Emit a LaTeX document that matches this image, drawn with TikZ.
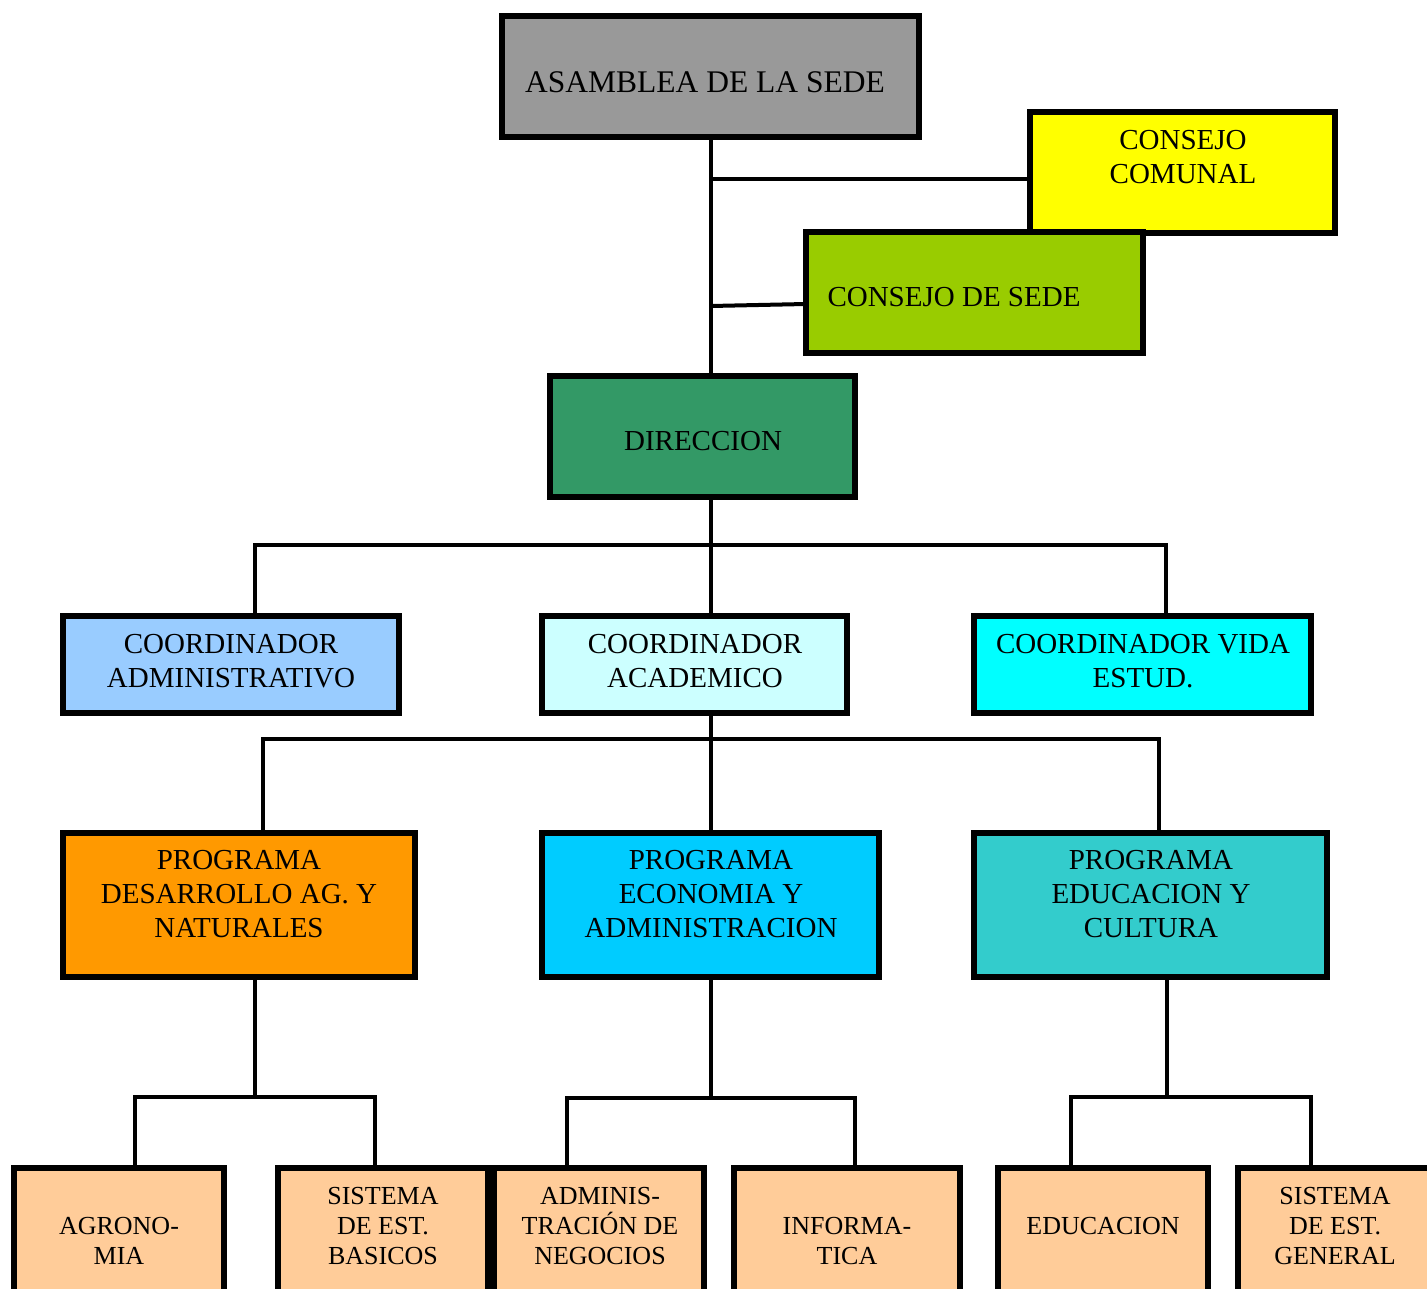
\documentclass[tikz,border=0pt]{standalone}
\usepackage{fontspec}
\setmainfont{Liberation Serif}
\definecolor{cgray}{HTML}{999999}
\definecolor{cyel}{HTML}{FFFF00}
\definecolor{cgreen}{HTML}{99CC00}
\definecolor{cdir}{HTML}{339966}
\definecolor{cadmc}{HTML}{99CCFF}
\definecolor{cacadc}{HTML}{CCFFFF}
\definecolor{cvidac}{HTML}{00FFFF}
\definecolor{cpdes}{HTML}{FF9900}
\definecolor{cpeco}{HTML}{00CCFF}
\definecolor{cpedu}{HTML}{33CCCC}
\definecolor{cbot}{HTML}{FFCC99}
\newcommand{\orgbox}[6]{\node[orgnode, fill=#6, minimum width={#4-#2-6}, minimum height={#5-#3-6}] (#1) at ({(#2+#4)/2},{(#3+#5)/2}) {};}
\begin{document}
\begin{tikzpicture}[x=1pt,y=-1pt,
  orgnode/.style={draw=black, line width=6pt, inner sep=0pt, outer sep=0pt},
  conn/.style={draw=black, line width=4pt},
  bigtxt/.style={font=\fontsize{29}{34}\selectfont, align=center, inner sep=0pt},
  asamtxt/.style={font=\fontsize{31.5}{36}\selectfont, align=center, inner sep=0pt},
  smalltxt/.style={font=\fontsize{26}{30}\selectfont, align=center, inner sep=0pt}]
\useasboundingbox (0,0) rectangle (1427,1289);
\clip (0,0) rectangle (1427,1289);
% boxes
\orgbox{asam}{499}{13}{922}{140}{cgray}
\orgbox{comunal}{1027}{109}{1338}{236}{cyel}
\orgbox{csede}{803}{229}{1146}{356}{cgreen}
\orgbox{dir}{547}{373}{858}{500}{cdir}
\orgbox{cadm}{60}{613}{402}{716}{cadmc}
\orgbox{cacad}{539}{613}{850}{716}{cacadc}
\orgbox{cvida}{971}{613}{1314}{716}{cvidac}
\orgbox{pdes}{60}{830}{418}{980}{cpdes}
\orgbox{peco}{539}{830}{882}{980}{cpeco}
\orgbox{pedu}{971}{830}{1330}{980}{cpedu}
\orgbox{agro}{11}{1165}{227}{1320}{cbot}
\orgbox{sbas}{275}{1165}{491}{1320}{cbot}
\orgbox{admn}{491}{1165}{707}{1320}{cbot}
\orgbox{info}{731}{1165}{963}{1320}{cbot}
\orgbox{educ}{995}{1165}{1211}{1320}{cbot}
\orgbox{sgen}{1235}{1165}{1440}{1320}{cbot}
% junction coordinates
\coordinate (j1) at (711,179);
\coordinate (j2) at (711,306);
\coordinate (bA) at (711,545);
\coordinate (bAl) at (255,545);
\coordinate (bAr) at (1166,545);
\coordinate (bB) at (711,739);
\coordinate (bBl) at (263,739);
\coordinate (bBr) at (1159,739);
\coordinate (cL) at (255,1097);
\coordinate (cLl) at (135,1097);
\coordinate (cLr) at (375,1097);
\coordinate (cM) at (711,1098);
\coordinate (cMl) at (567,1098);
\coordinate (cMr) at (855,1098);
\coordinate (cR) at (1167,1097);
\coordinate (cRl) at (1071,1097);
\coordinate (cRr) at (1311,1097);
% connectors
\draw[conn] (j1 |- asam.south) -- (j1 |- dir.north);
\draw[conn] (j1) -- (j1 -| comunal.west);
\draw[conn] (j2) -- ([yshift=2pt]j2 -| csede.west);
\draw[conn] (bA |- dir.south) -- (bA |- cacad.north);
\draw[conn] (bAl |- cadm.north) -- (bAl) -- (bAr) -- (bAr |- cvida.north);
\draw[conn] (bB |- cacad.south) -- (bB |- peco.north);
\draw[conn] (bBl |- pdes.north) -- (bBl) -- (bBr) -- (bBr |- pedu.north);
\draw[conn] (cL |- pdes.south) -- (cL);
\draw[conn] (cLl |- agro.north) -- (cLl) -- (cLr) -- (cLr |- sbas.north);
\draw[conn] (cM |- peco.south) -- (cM);
\draw[conn] (cMl |- admn.north) -- (cMl) -- (cMr) -- (cMr |- info.north);
\draw[conn] (cR |- pedu.south) -- (cR);
\draw[conn] (cRl |- educ.north) -- (cRl) -- (cRr) -- (cRr |- sgen.north);
% texts
\node[asamtxt] (tasam) at (705,82) {ASAMBLEA DE LA SEDE};
\node[bigtxt] (tcomunal) at (1183,157) {CONSEJO\\COMUNAL};
\node[bigtxt] (tcsede) at (954,297) {CONSEJO DE SEDE};
\node[bigtxt] (tdir) at (703,441) {DIRECCION};
\node[bigtxt] (tcadm) at (231,661) {COORDINADOR\\ADMINISTRATIVO};
\node[bigtxt] (tcacad) at (695,661) {COORDINADOR\\ACADEMICO};
\node[bigtxt] (tcvida) at (1143,661) {COORDINADOR VIDA\\ESTUD.};
\node[bigtxt] (tpdes) at (239,894) {PROGRAMA\\DESARROLLO AG. Y\\NATURALES};
\node[bigtxt] (tpeco) at (711,894) {PROGRAMA\\ECONOMIA Y\\ADMINISTRACION};
\node[bigtxt] (tpedu) at (1151,894) {PROGRAMA\\EDUCACION Y\\CULTURA};
\node[smalltxt] (tagro) at (119,1241) {AGRONO-\\MIA};
\node[smalltxt] (tsbas) at (383,1226) {SISTEMA\\DE EST.\\BASICOS};
\node[smalltxt] (tadmn) at (600,1226) {ADMINIS-\\TRACIÓN DE\\NEGOCIOS};
\node[smalltxt] (tinfo) at (847,1241) {INFORMA-\\TICA};
\node[smalltxt] (teduc) at (1103,1226) {EDUCACION};
\node[smalltxt] (tsgen) at (1335,1226) {SISTEMA\\DE EST.\\GENERAL};
\end{tikzpicture}
\end{document}
